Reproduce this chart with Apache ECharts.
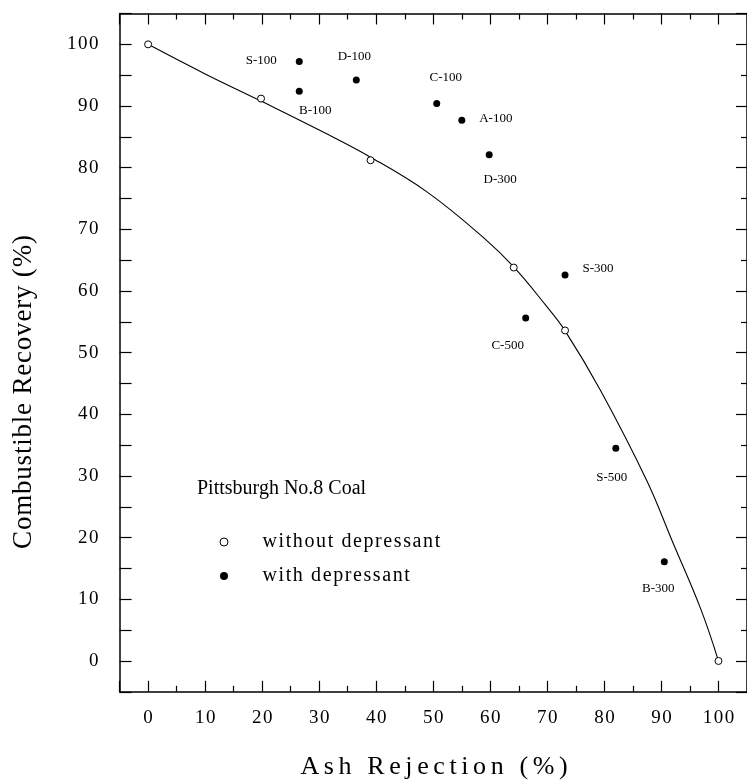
<!DOCTYPE html>
<html>
<head>
<meta charset="utf-8">
<script src="https://cdn.jsdelivr.net/npm/echarts@6/dist/echarts.min.js"></script>
<style>
html,body{margin:0;padding:0;background:#fff;}
#chart{width:747px;height:783px;}
</style>
</head>
<body>
<div id="chart"></div>
<script>
// ---- data ----
const xTicks = [0, 10, 20, 30, 40, 50, 60, 70, 80, 90, 100];
const yTicks = [0, 10, 20, 30, 40, 50, 60, 70, 80, 90, 100];

const withoutX = [0, 19.8, 39.0, 64.1, 73.1, 100];
const withoutY = [100, 91.2, 81.2, 63.8, 53.6, 0];

const withNames = ['S-100', 'B-100', 'D-100', 'C-100', 'A-100', 'D-300', 'S-300', 'C-500', 'S-500', 'B-300'];
const withX = [26.5, 26.5, 36.5, 50.6, 55.0, 59.8, 73.1, 66.2, 82.0, 90.5];
const withY = [97.2, 92.4, 94.2, 90.4, 87.7, 82.1, 62.6, 55.6, 34.5, 16.1];

const curveX = [0, 10, 19.8, 30, 39, 49, 59, 64.1, 69.7, 73, 79.3, 87.4, 92, 96.9, 100];
const curveY = [100, 95.2, 90.8, 86.1, 81.7, 76.0, 68.5, 63.9, 57.7, 53.7, 43.9, 29.3, 19.2, 8.4, 0];

const noteText = 'Pittsburgh No.8 Coal';
const xName = 'Ash Rejection (%)';
const yName = 'Combustible Recovery (%)';
const legendNames = ['without depressant', 'with depressant'];

// ---- label placement (style only) ----
const labelOffsets = [[-38, -1], [16, 19], [-2, -24], [9, -26], [34, -2], [11, 25], [33, -6], [-18, 27], [-4, 29], [-6, 27]];

// letter spacing of the original typesetting, applied when the canvas draws the text
function spacingFor(s) {
  if (s === xName) return 4.6;
  if (s === yName) return 0.8;
  if (legendNames.indexOf(s) >= 0) return 1.6;
  if (/^\d+$/.test(s)) return 1.5;
  return 0;
}
(function () {
  const proto = CanvasRenderingContext2D.prototype;
  const orig = proto.fillText;
  proto.fillText = function (text, x, y, maxWidth) {
    const ls = spacingFor(String(text));
    const call = (xx) => (maxWidth === undefined ? orig.call(this, text, xx, y) : orig.call(this, text, xx, y, maxWidth));
    if ('letterSpacing' in this) {
      const f = this.font;
      this.letterSpacing = (ls || 0) + 'px';
      this.font = f;
      let dx = 0;
      if (ls) {
        if (this.textAlign === 'center') dx = ls / 2;
        else if (this.textAlign === 'right' || this.textAlign === 'end') dx = ls;
      }
      const r = call(x + dx);
      this.letterSpacing = '0px';
      this.font = f;
      return r;
    }
    return call(x);
  };
})();

const FONT = 'Liberation Serif';
const chart = echarts.init(document.getElementById('chart'), null, {renderer: 'canvas'});

const axisLineStyle = {color: '#000', width: 1.5};
const tickStyle = {color: '#000', width: 1.2};

function mainTickAxis(extra) {
  return Object.assign({
    type: 'value', min: -5, max: 105, splitNumber: 11,
    axisLine: {show: true, onZero: false, lineStyle: axisLineStyle},
    axisTick: {show: true, inside: true, length: 11, lineStyle: tickStyle},
    minorTick: {show: true, splitNumber: 2, length: 6, lineStyle: tickStyle},
    splitLine: {show: false},
    minorSplitLine: {show: false}
  }, extra);
}

const option = {
  backgroundColor: '#fff',
  animation: false,
  grid: {left: 119.6, top: 13.5, width: 631.4, height: 678.3, containLabel: false},
  title: {
    text: noteText, left: 197, top: 479, padding: 0,
    textStyle: {fontFamily: FONT, fontSize: 20, fontWeight: 'normal', color: '#000'}
  },
  legend: {
    orient: 'vertical', left: 214.5, top: 527,
    itemWidth: 67, itemHeight: 8, itemGap: 14,
    data: legendNames,
    textStyle: {fontFamily: FONT, fontSize: 20, color: '#000', lineHeight: 20},
    itemStyle: {borderWidth: 1},
    selectedMode: false
  },
  xAxis: [
    mainTickAxis({
      position: 'bottom',
      axisLabel: {
        show: true, margin: 17, fontFamily: FONT, fontSize: 19, color: '#000',
        showMinLabel: false, showMaxLabel: false,
        formatter: v => (xTicks.indexOf(v) >= 0 ? String(v) : '')
      }
    }),
    mainTickAxis({position: 'top', axisLabel: {show: false}})
  ],
  yAxis: [
    {
      type: 'value', min: -5, max: 105, interval: 5, position: 'left',
      axisLine: {show: true, onZero: false, lineStyle: axisLineStyle},
      axisTick: {show: true, inside: true, length: 12, lineStyle: tickStyle},
      splitLine: {show: false},
      axisLabel: {
        show: true, margin: 21, fontFamily: FONT, fontSize: 19, color: '#000',
        formatter: v => (yTicks.indexOf(v) >= 0 ? String(v) : '')
      }
    },
    mainTickAxis({position: 'right', axisLabel: {show: false}})
  ],
  graphic: [
    {
      type: 'text', x: 24, y: 392, rotation: Math.PI / 2,
      style: {text: yName, fontFamily: FONT, fontSize: 27, fill: '#000', align: 'center', verticalAlign: 'middle'}
    },
    {
      type: 'text', x: 434, y: 767,
      style: {text: xName, fontFamily: FONT, fontSize: 26, fill: '#000', align: 'center', verticalAlign: 'middle'}
    }
  ],
  series: [
    {
      name: 'fit', type: 'line', xAxisIndex: 0, yAxisIndex: 0,
      data: curveX.map((x, i) => [x, curveY[i]]),
      showSymbol: false, symbol: 'none', smooth: 0.4,
      lineStyle: {color: '#000', width: 1.1},
      silent: true, z: 1
    },
    {
      name: legendNames[0], type: 'scatter', xAxisIndex: 0, yAxisIndex: 0,
      data: withoutX.map((x, i) => [x, withoutY[i]]),
      symbol: 'circle', symbolSize: 7,
      itemStyle: {color: '#fff', borderColor: '#000', borderWidth: 1, opacity: 1},
      z: 3
    },
    {
      name: legendNames[1], type: 'scatter', xAxisIndex: 0, yAxisIndex: 0,
      data: withX.map((x, i) => ({
        value: [x, withY[i]], name: withNames[i],
        label: {offset: labelOffsets[i]}
      })),
      symbol: 'circle', symbolSize: 7,
      itemStyle: {color: '#000', opacity: 1},
      label: {
        show: true, position: 'inside', align: 'center', verticalAlign: 'middle',
        formatter: p => p.name,
        fontFamily: FONT, fontSize: 13, color: '#000'
      },
      z: 3
    }
  ]
};
chart.setOption(option);
</script>
</body>
</html>
